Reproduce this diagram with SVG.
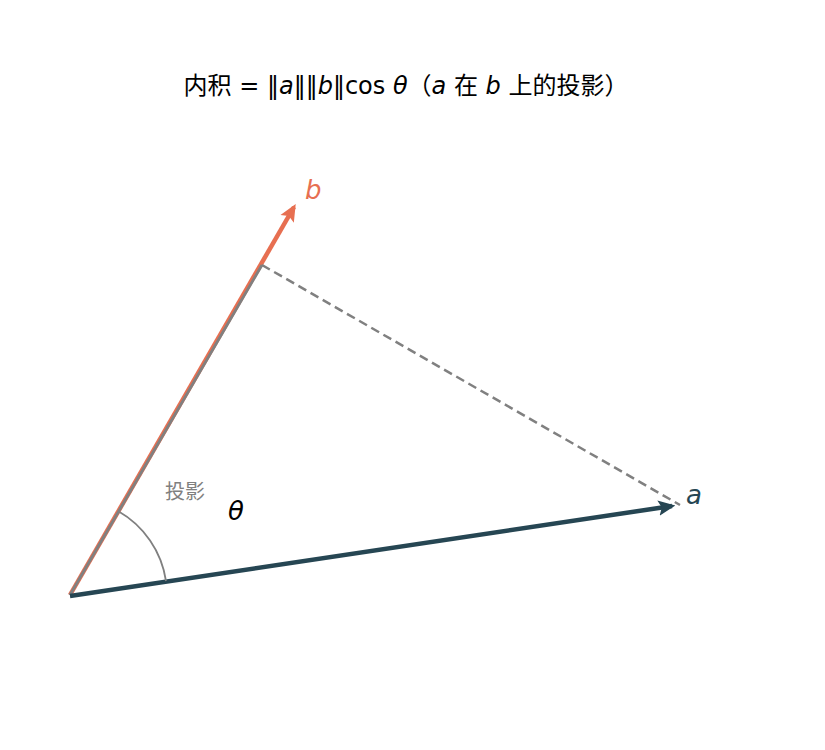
<svg xmlns="http://www.w3.org/2000/svg" width="825" height="750" viewBox="0 0 825 750">
<style>
.t{font-family:"DejaVu Sans","Noto Sans CJK SC",sans-serif;}
.it{font-style:italic;}
</style>
<defs>
<marker id="ha" viewBox="0 0 10 10" refX="8" refY="5" markerWidth="3.8" markerHeight="3.8" orient="auto" markerUnits="strokeWidth">
<path d="M0,0.5 L10,5 L0,9.5 L2,5 Z" fill="#264653"/>
</marker>
<marker id="hb" viewBox="0 0 10 10" refX="8" refY="5" markerWidth="3.8" markerHeight="3.8" orient="auto" markerUnits="strokeWidth">
<path d="M0,0.5 L10,5 L0,9.5 L2,5 Z" fill="#E76F51"/>
</marker>
</defs>
<rect width="825" height="750" fill="#ffffff"/>
<g id="title">
<text class="t" x="406" y="94" font-size="24" text-anchor="middle" fill="#000">内积 = ‖<tspan class="it">a</tspan>‖‖<tspan class="it">b</tspan>‖cos <tspan class="it">θ</tspan>（<tspan class="it">a</tspan> 在 <tspan class="it">b</tspan> 上的投影）</text>
</g>
<g id="connectors" fill="none">
<line id="vec-b" x1="70" y1="595" x2="294" y2="207" stroke="#E76F51" stroke-width="4.5" marker-end="url(#hb)"/>
<line id="proj" x1="70" y1="595" x2="262" y2="265" stroke="#808080" stroke-width="2.8"/>
<line id="perp" x1="262" y1="265" x2="680" y2="505" stroke="#808080" stroke-width="2.5" stroke-dasharray="9,5"/>
<line id="vec-a" x1="70" y1="596" x2="672" y2="506" stroke="#264653" stroke-width="4.5" marker-end="url(#ha)"/>
<path id="arc" d="M166,581 A97,97 0 0 0 118,511" stroke="#808080" stroke-width="1.8"/>
</g>
<g id="label-b"><text class="t it" x="305" y="199" font-size="26" fill="#E76F51">b</text></g>
<g id="label-a"><text class="t it" x="686" y="504" font-size="26" fill="#264653">a</text></g>
<g id="label-theta"><text class="t it" x="228" y="520" font-size="26" fill="#000">θ</text></g>
<g id="label-proj"><text class="t" x="185" y="499" font-size="20" text-anchor="middle" fill="#808080">投影</text></g>
</svg>
